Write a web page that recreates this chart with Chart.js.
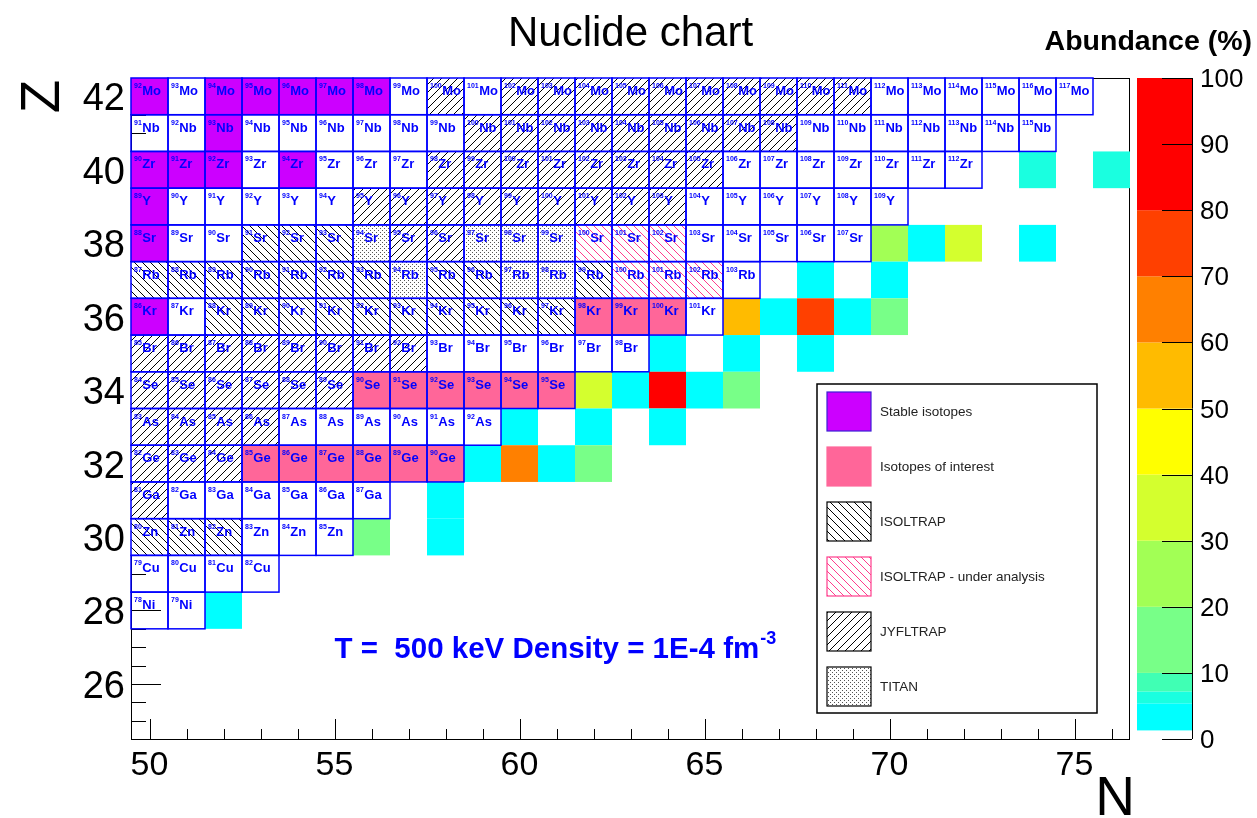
<!DOCTYPE html>
<html>
<head>
<meta charset="utf-8">
<script src="https://cdn.jsdelivr.net/npm/chart.js@4.4.0/dist/chart.umd.min.js"></script>
<style>
  html, body { margin: 0; padding: 0; background: #fff; }
  canvas { display: block; }
</style>
</head>
<body>
<canvas id="myChart" width="1257" height="818"></canvas>
<script>
// rows of the chart (every row starts at N = 50)
const elements = ['Ni', 'Cu', 'Zn', 'Ga', 'Ge', 'As', 'Se', 'Br', 'Kr', 'Rb', 'Sr', 'Y', 'Zr', 'Nb', 'Mo'];
const protons = [28, 29, 30, 31, 32, 33, 34, 35, 36, 37, 38, 39, 40, 41, 42];
const firstN = [50, 50, 50, 50, 50, 50, 50, 50, 50, 50, 50, 50, 50, 50, 50];
const lastN = [51, 53, 55, 56, 58, 59, 61, 63, 65, 66, 69, 70, 72, 74, 75];

// categories
const stable = ['92Mo', '94Mo', '95Mo', '96Mo', '97Mo', '98Mo', '93Nb', '90Zr', '91Zr', '92Zr', '94Zr', '89Y', '88Sr', '86Kr'];
const interest = ['98Kr', '99Kr', '100Kr', '90Se', '91Se', '92Se', '93Se', '94Se', '95Se',
                  '85Ge', '86Ge', '87Ge', '88Ge', '89Ge', '90Ge'];
const isoltrap = ['91Sr', '92Sr', '93Sr',
                  '87Rb', '88Rb', '89Rb', '90Rb', '91Rb', '92Rb', '93Rb', '95Rb', '96Rb', '99Rb',
                  '88Kr', '89Kr', '90Kr', '91Kr', '92Kr', '93Kr', '94Kr', '95Kr', '96Kr', '97Kr',
                  '80Zn', '81Zn', '82Zn'];
const isoltrapAnalysis = ['100Sr', '101Sr', '102Sr', '100Rb', '101Rb', '102Rb'];
const jyfltrap = ['100Mo', '102Mo', '103Mo', '104Mo', '105Mo', '106Mo', '107Mo', '108Mo', '109Mo', '110Mo', '111Mo',
                  '100Nb', '101Nb', '102Nb', '103Nb', '104Nb', '105Nb', '106Nb', '107Nb', '108Nb',
                  '98Zr', '99Zr', '100Zr', '101Zr', '102Zr', '103Zr', '104Zr', '105Zr',
                  '95Y', '96Y', '97Y', '98Y', '99Y', '100Y', '101Y', '102Y', '103Y',
                  '95Sr', '96Sr',
                  '85Br', '86Br', '87Br', '88Br', '89Br', '90Br', '91Br', '92Br',
                  '84Se', '85Se', '86Se', '87Se', '88Se', '89Se',
                  '83As', '84As', '85As', '86As',
                  '82Ge', '83Ge', '84Ge', '81Ga'];
const titan = ['94Sr', '97Sr', '98Sr', '99Sr', '94Rb', '97Rb', '98Rb'];
const hollow = ['91Nb', '79Cu', '78Ni'];

// abundance (%) at T = 500 keV
const abundanceN = [74, 76, 70, 71, 72, 74, 68, 70, 66, 67, 68, 69, 70, 64, 66, 68, 62, 63, 64, 65, 66, 60, 62, 64, 59, 60, 61, 62, 58, 56, 58, 52];
const abundanceZ = [40, 40, 38, 38, 38, 38, 37, 37, 36, 36, 36, 36, 36, 35, 35, 35, 34, 34, 34, 34, 34, 33, 33, 33, 32, 32, 32, 32, 31, 30, 30, 28];
const abundance = [6, 6, 25, 3, 35, 3, 3, 3, 55, 3, 75, 3, 15, 3, 3, 3, 35, 3, 90, 3, 15, 3, 3, 3, 3, 65, 3, 15, 3, 15, 3, 3];

// palette
const paletteLevels = [1.3, 5.4, 7.2, 10, 20, 30, 40, 50, 60, 70, 80, 100];
const paletteColors = ['#00ffff', '#1affe0', '#40ffb4', '#78ff88', '#a2ff55', '#d4ff2e', '#ffff00', '#ffbb00', '#ff8000', '#ff4000', '#ff0000'];

// axes
const xTickLabels = [50, 55, 60, 65, 70, 75];
const yTickLabels = [26, 28, 30, 32, 34, 36, 38, 40, 42];
const zTickLabels = [0, 10, 20, 30, 40, 50, 60, 70, 80, 90, 100];

const FONT = '"Liberation Sans", Arial, Helvetica, sans-serif';

function kindOf(label) {
    if (stable.includes(label)) return 'stable';
    if (interest.includes(label)) return 'interest';
    if (isoltrap.includes(label)) return 'isoltrap';
    if (isoltrapAnalysis.includes(label)) return 'analysis';
    if (jyfltrap.includes(label)) return 'jyfltrap';
    if (titan.includes(label)) return 'titan';
    return 'plain';
}

const isotopeData = [];
elements.forEach((el, i) => {
    for (let n = firstN[i]; n <= lastN[i]; n++) {
        const mass = n + protons[i];
        isotopeData.push({ x: n, y: protons[i], mass: mass, sym: el, kind: kindOf(mass + el), hollow: hollow.includes(mass + el) });
    }
});
const abundanceData = abundanceN.map((n, i) => ({ x: n, y: abundanceZ[i], v: abundance[i] }));

function paletteColor(v) {
    for (let i = 0; i < paletteColors.length; i++) {
        if (v < paletteLevels[i + 1]) return paletteColors[i];
    }
    return paletteColors[paletteColors.length - 1];
}

function makePattern(ctx, kind) {
    const c = document.createElement('canvas');
    const s = kind === 'titan' ? 4 : 8;
    c.width = s; c.height = s;
    const g = c.getContext('2d');
    if (kind === 'titan') {
        g.fillStyle = '#555';
        g.fillRect(0, 0, 1, 1);
        g.fillRect(2, 2, 1, 1);
    } else {
        g.strokeStyle = kind === 'analysis' ? '#ff3c8c' : '#000';
        g.lineWidth = 1;
        g.beginPath();
        [-s, 0, s].forEach(k => {
            if (kind === 'jyfltrap') { g.moveTo(k + s, 0); g.lineTo(k, s); }
            else { g.moveTo(k, 0); g.lineTo(k + s, s); }
        });
        g.stroke();
    }
    return ctx.createPattern(c, 'repeat');
}

function fillSwatch(ctx, kind, x, y, w, h, patterns) {
    if (kind === 'stable') ctx.fillStyle = '#cc00ff';
    else if (kind === 'interest') ctx.fillStyle = '#ff6699';
    else ctx.fillStyle = '#ffffff';
    ctx.fillRect(x, y, w, h);
    if (patterns[kind]) {
        ctx.fillStyle = patterns[kind];
        ctx.fillRect(x, y, w, h);
    }
}

const nuclidePlugin = {
    id: 'nuclide',
    beforeDatasetsDraw(chart) {
        const ctx = chart.ctx;
        const xs = chart.scales.x, ys = chart.scales.y;
        const a = chart.chartArea;
        const patterns = {
            isoltrap: makePattern(ctx, 'isoltrap'),
            analysis: makePattern(ctx, 'analysis'),
            jyfltrap: makePattern(ctx, 'jyfltrap'),
            titan: makePattern(ctx, 'titan')
        };
        chart.$patterns = patterns;
        ctx.save();

        // frame
        ctx.strokeStyle = '#000';
        ctx.lineWidth = 1;
        ctx.strokeRect(a.left + 0.5, a.top + 0.5, a.right - a.left - 1, a.bottom - a.top);

        // x ticks
        ctx.beginPath();
        for (let v = 50; v <= 76; v++) {
            const px = Math.round(xs.getPixelForValue(v)) + 0.5;
            const len = v % 5 === 0 ? 20 : 10;
            ctx.moveTo(px, a.bottom);
            ctx.lineTo(px, a.bottom - len);
        }
        // y ticks
        for (let v = 25; v <= 42.5; v += 0.5) {
            const py = Math.round(ys.getPixelForValue(v)) + 0.5;
            const len = (v % 2 === 0) ? 30 : 15;
            ctx.moveTo(a.left, py);
            ctx.lineTo(a.left + len, py);
        }
        ctx.stroke();

        // abundance cells
        chart.data.datasets[0].data.forEach(d => {
            const x0 = xs.getPixelForValue(d.x - 0.5), x1 = xs.getPixelForValue(d.x + 0.5);
            const y0 = ys.getPixelForValue(d.y + 0.5), y1 = ys.getPixelForValue(d.y - 0.5);
            ctx.fillStyle = paletteColor(d.v);
            ctx.fillRect(x0, y0, x1 - x0, y1 - y0);
        });

        // isotope boxes
        const cells = chart.data.datasets[1].data;
        cells.forEach(d => {
            const x0 = xs.getPixelForValue(d.x - 0.5), x1 = xs.getPixelForValue(d.x + 0.5);
            const y0 = ys.getPixelForValue(d.y + 0.5), y1 = ys.getPixelForValue(d.y - 0.5);
            if (!(d.hollow && d.kind === 'plain')) fillSwatch(ctx, d.kind, x0, y0, x1 - x0, y1 - y0, patterns);
        });
        ctx.strokeStyle = '#0000ff';
        ctx.lineWidth = 1.5;
        cells.forEach(d => {
            const x0 = xs.getPixelForValue(d.x - 0.5), x1 = xs.getPixelForValue(d.x + 0.5);
            const y0 = ys.getPixelForValue(d.y + 0.5), y1 = ys.getPixelForValue(d.y - 0.5);
            ctx.strokeRect(x0, y0, x1 - x0, y1 - y0);
        });
        ctx.fillStyle = '#0000ff';
        ctx.textAlign = 'left';
        ctx.textBaseline = 'alphabetic';
        cells.forEach(d => {
            const x0 = xs.getPixelForValue(d.x - 0.5);
            const y0 = ys.getPixelForValue(d.y + 0.5);
            ctx.font = 'bold 7px ' + FONT;
            const m = String(d.mass);
            ctx.fillText(m, x0 + 3, y0 + 10);
            const w = ctx.measureText(m).width;
            ctx.font = 'bold 13px ' + FONT;
            ctx.fillText(d.sym, x0 + 3.5 + w, y0 + 17);
        });
        ctx.restore();
    },
    afterDraw(chart) {
        const ctx = chart.ctx;
        const xs = chart.scales.x, ys = chart.scales.y, zs = chart.scales.z;
        const a = chart.chartArea;
        const patterns = chart.$patterns;
        ctx.save();
        ctx.fillStyle = '#000';

        // axis labels
        ctx.font = '34px ' + FONT;
        ctx.textAlign = 'center';
        ctx.textBaseline = 'alphabetic';
        xTickLabels.forEach(v => ctx.fillText(String(v), xs.getPixelForValue(v), a.bottom + 36));
        ctx.font = '38px ' + FONT;
        ctx.textAlign = 'right';
        yTickLabels.forEach(v => ctx.fillText(String(v), a.left - 6, ys.getPixelForValue(v) + 14));

        // axis titles
        ctx.font = '55px ' + FONT;
        ctx.textAlign = 'right';
        ctx.fillText('N', a.right + 5, 815);
        ctx.save();
        ctx.translate(59, ys.getPixelForValue(42));
        ctx.rotate(-Math.PI / 2);
        ctx.textAlign = 'center';
        ctx.fillText('Z', 0, 0);
        ctx.restore();

        // title
        ctx.font = '42px ' + FONT;
        ctx.textAlign = 'center';
        ctx.fillText('Nuclide chart', (a.left + a.right) / 2, 46);

        // colour bar
        const cbL = 1137, cbR = 1192;
        for (let i = 0; i < paletteColors.length; i++) {
            const yTop = zs.getPixelForValue(paletteLevels[i + 1]);
            const yBot = zs.getPixelForValue(paletteLevels[i]);
            ctx.fillStyle = paletteColors[i];
            ctx.fillRect(cbL, yTop, cbR - cbL, yBot - yTop);
        }
        ctx.strokeStyle = '#000';
        ctx.lineWidth = 1;
        ctx.beginPath();
        ctx.moveTo(cbR + 0.5, a.top);
        ctx.lineTo(cbR + 0.5, a.bottom);
        zTickLabels.forEach(v => {
            const py = Math.round(zs.getPixelForValue(v)) + 0.5;
            ctx.moveTo(cbR, py);
            ctx.lineTo(cbR - 30, py);
        });
        ctx.stroke();
        ctx.fillStyle = '#000';
        ctx.font = '26px ' + FONT;
        ctx.textAlign = 'left';
        zTickLabels.forEach(v => ctx.fillText(String(v), 1200, zs.getPixelForValue(v) + 9));
        ctx.font = 'bold 28.5px ' + FONT;
        ctx.textAlign = 'right';
        ctx.fillText('Abundance (%)', 1252, 50);

        // legend
        const lx = 817, ly = 384, lw = 280, lh = 329;
        ctx.fillStyle = '#fff';
        ctx.fillRect(lx, ly, lw, lh);
        ctx.strokeStyle = '#000';
        ctx.lineWidth = 1.5;
        ctx.strokeRect(lx, ly, lw, lh);
        const entries = [
            ['stable', 'Stable isotopes', '#3b1fd6'],
            ['interest', 'Isotopes of interest', '#ff6699'],
            ['isoltrap', 'ISOLTRAP', '#000'],
            ['analysis', 'ISOLTRAP - under analysis', '#ff3c8c'],
            ['jyfltrap', 'JYFLTRAP', '#000'],
            ['titan', 'TITAN', '#000']
        ];
        entries.forEach((e, i) => {
            const sy = 392 + i * 55;
            fillSwatch(ctx, e[0], 827, sy, 44, 39, patterns);
            ctx.strokeStyle = e[2];
            ctx.lineWidth = 1.2;
            ctx.strokeRect(827, sy, 44, 39);
            ctx.fillStyle = '#222';
            ctx.font = '13.5px ' + FONT;
            ctx.textAlign = 'left';
            ctx.fillText(e[1], 880, sy + 24);
        });

        // annotation
        ctx.fillStyle = '#0000ff';
        ctx.font = 'bold 29.5px ' + FONT;
        ctx.textAlign = 'left';
        const tx = xs.getPixelForValue(55), ty = ys.getPixelForValue(26.7);
        const txt = 'T =  500 keV Density = 1E-4 fm';
        ctx.fillText(txt, tx, ty);
        const tw = ctx.measureText(txt).width;
        ctx.font = 'bold 18px ' + FONT;
        ctx.fillText('-3', tx + tw + 1, ty - 14);
        ctx.restore();
    }
};

const ctx = document.getElementById('myChart');
const myChart = new Chart(ctx, {
    type: 'scatter',
    data: {
        datasets: [
            { label: 'Abundance', data: abundanceData, pointRadius: 0 },
            { label: 'Isotopes', data: isotopeData, pointRadius: 0 }
        ]
    },
    options: {
        responsive: false,
        animation: false,
        devicePixelRatio: 1,
        events: [],
        layout: { padding: { left: 131, top: 78, right: 127, bottom: 79 } },
        scales: {
            x: { type: 'linear', min: 49.5, max: 76.5, display: false },
            y: { type: 'linear', min: 24.5, max: 42.5, display: false },
            z: { type: 'linear', axis: 'y', min: 0, max: 100, display: false }
        },
        plugins: {
            legend: { display: false },
            tooltip: { enabled: false }
        }
    },
    plugins: [nuclidePlugin]
});
</script>
</body>
</html>
